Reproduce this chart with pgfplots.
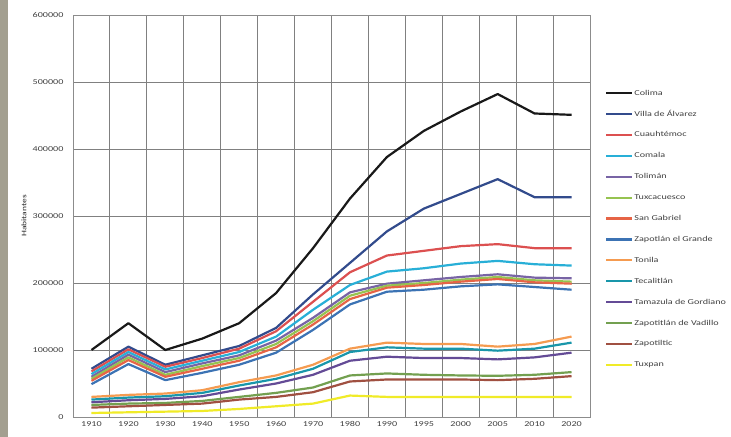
\documentclass[border=0pt]{standalone}
\usepackage{pgfplots}
\pgfplotsset{compat=1.18}
\usepackage{pgfplotstable}
\usepackage{fontspec}
\setmainfont{Carlito}
\newfontfamily\widefont[FakeStretch=1.35]{Carlito}

\definecolor{cColima}{RGB}{25,25,25}
\definecolor{cVilla}{RGB}{50,75,140}
\definecolor{cCuauh}{RGB}{220,80,80}
\definecolor{cComala}{RGB}{40,175,215}
\definecolor{cToliman}{RGB}{120,100,165}
\definecolor{cTuxca}{RGB}{150,195,80}
\definecolor{cSanGab}{RGB}{230,100,70}
\definecolor{cZapotlan}{RGB}{60,115,180}
\definecolor{cTonila}{RGB}{245,155,80}
\definecolor{cTecal}{RGB}{25,150,170}
\definecolor{cTamaz}{RGB}{100,75,150}
\definecolor{cZapVad}{RGB}{115,160,80}
\definecolor{cZapotil}{RGB}{160,80,65}
\definecolor{cTuxpan}{RGB}{240,235,40}
\definecolor{strip}{RGB}{163,159,144}

% population by census year (i = category index)
\pgfplotstableread{
i Colima Villa Cuauh Comala Toliman Tuxca SanGab Zapotlan Tonila Tecal Tamaz ZapVad Zapotil Tuxpan
0  100000 72000  68000  64000  60000  57000  54000  49000  30000  26000  22000 18000 14000 6000
1  140000 105000 101000 97000  93000  89000  85000  79000  33000  29000  25000 20000 16000 7000
2  100000 78000  75000  71000  67000  63000  60000  55000  35000  31000  27000 21000 18000 8000
3  117000 92000  88000  84000  80000  76000  72000  66000  40000  36000  31000 24000 20000 9000
4  140000 106000 102000 97000  92000  88000  84000  78000  52000  47000  41000 30000 26000 12000
5  185000 133000 128000 120000 114000 109000 104000 96000  62000  57000  50000 36000 30000 16000
6  252000 183000 172000 160000 148000 143000 138000 130000 78000  72000  63000 44000 37000 20000
7  326000 230000 216000 197000 186000 181000 176000 168000 102000 97000  84000 62000 53000 32000
8  388000 277000 241000 217000 199000 196000 193000 187000 111000 104000 90000 65000 56000 30000
9  427000 311000 248000 222000 204000 200000 197000 190000 109000 102000 88000 63000 56000 30000
10 456000 333000 255000 229000 209000 205000 202000 195000 109000 102000 88000 62000 56000 30000
11 482000 355000 258000 233000 213000 209000 206000 198000 105000 99000  86000 61500 55000 30000
12 453000 328000 252000 228000 208000 204000 201000 194000 109000 102000 89000 63000 57000 30000
13 451000 328000 252000 226000 207000 202000 199000 190000 120000 111000 96000 67000 61000 30000
}\pop

\begin{document}
\begin{tikzpicture}
\useasboundingbox (0,0) rectangle (731bp,437bp);
\fill[strip] (0,0) rectangle (8bp,437bp);
\begin{axis}[
  at={(73bp,20bp)}, anchor=south west,
  scale only axis, width=517bp, height=402bp,
  xmin=-0.5, xmax=13.5, ymin=0, ymax=600000,
  xtick={0,...,13},
  xticklabels={1910,1920,1930,1940,1950,1960,1970,1980,1990,1995,2000,2005,2010,2020},
  minor xtick={0.5,1.5,...,12.5},
  xminorgrids, ymajorgrids,
  ytick={0,100000,...,600000},
  scaled y ticks=false,
  yticklabel style={/pgf/number format/fixed,/pgf/number format/1000 sep={}},
  /pgf/number format/assume math mode=true,
  major tick length=0pt, minor tick length=0pt,
  axis line style={color=black!45, line width=0.8bp},
  grid style={color=black!50, line width=0.9bp},
  minor grid style={color=black!50, line width=0.9bp},
  tick label style={font=\widefont\fontsize{7.5bp}{8bp}\selectfont, text=black!75},
  xticklabel style={yshift=-1bp},
  yticklabel style={xshift=-6bp},
  ylabel={Habitantes},
  ylabel style={at={(axis description cs:-0.095,0.5)}, anchor=center,
    font=\widefont\fontsize{7bp}{8bp}\selectfont, text=black!85},
  every axis plot/.append style={line width=2.2bp, no markers, line join=round},
  legend cell align=left,
  legend image code/.code={\draw[#1] (0bp,0bp) -- (26bp,0bp);},
  legend style={at={(axis description cs:1.029,0.816)}, anchor=north west,
    draw=none, fill=none, inner sep=0pt, row sep=12.9bp,
    font=\widefont\fontsize{7.5bp}{8bp}\selectfont, text=black!75,
    nodes={inner xsep=1bp, inner ysep=0pt, text height=6bp, text depth=2bp},
    /tikz/every odd column/.style={column sep=0pt}},
]
\addplot[cColima]   table[x=i,y=Colima]   {\pop}; \addlegendentry{Colima}
\addplot[cVilla]    table[x=i,y=Villa]    {\pop}; \addlegendentry{Villa de Álvarez}
\addplot[cCuauh]    table[x=i,y=Cuauh]    {\pop}; \addlegendentry{Cuauhtémoc}
\addplot[cComala]   table[x=i,y=Comala]   {\pop}; \addlegendentry{Comala}
\addplot[cToliman]  table[x=i,y=Toliman]  {\pop}; \addlegendentry{Tolimán}
\addplot[cTuxca]    table[x=i,y=Tuxca]    {\pop}; \addlegendentry{Tuxcacuesco}
\addplot[cSanGab]   table[x=i,y=SanGab]   {\pop}; \addlegendentry{San Gabriel}
\addplot[cZapotlan] table[x=i,y=Zapotlan] {\pop}; \addlegendentry{Zapotlán el Grande}
\addplot[cTonila]   table[x=i,y=Tonila]   {\pop}; \addlegendentry{Tonila}
\addplot[cTecal]    table[x=i,y=Tecal]    {\pop}; \addlegendentry{Tecalitlán}
\addplot[cTamaz]    table[x=i,y=Tamaz]    {\pop}; \addlegendentry{Tamazula de Gordiano}
\addplot[cZapVad]   table[x=i,y=ZapVad]   {\pop}; \addlegendentry{Zapotitlán de Vadillo}
\addplot[cZapotil]  table[x=i,y=Zapotil]  {\pop}; \addlegendentry{Zapotiltic}
\addplot[cTuxpan]   table[x=i,y=Tuxpan]   {\pop}; \addlegendentry{Tuxpan}
\end{axis}
\end{tikzpicture}
\end{document}
